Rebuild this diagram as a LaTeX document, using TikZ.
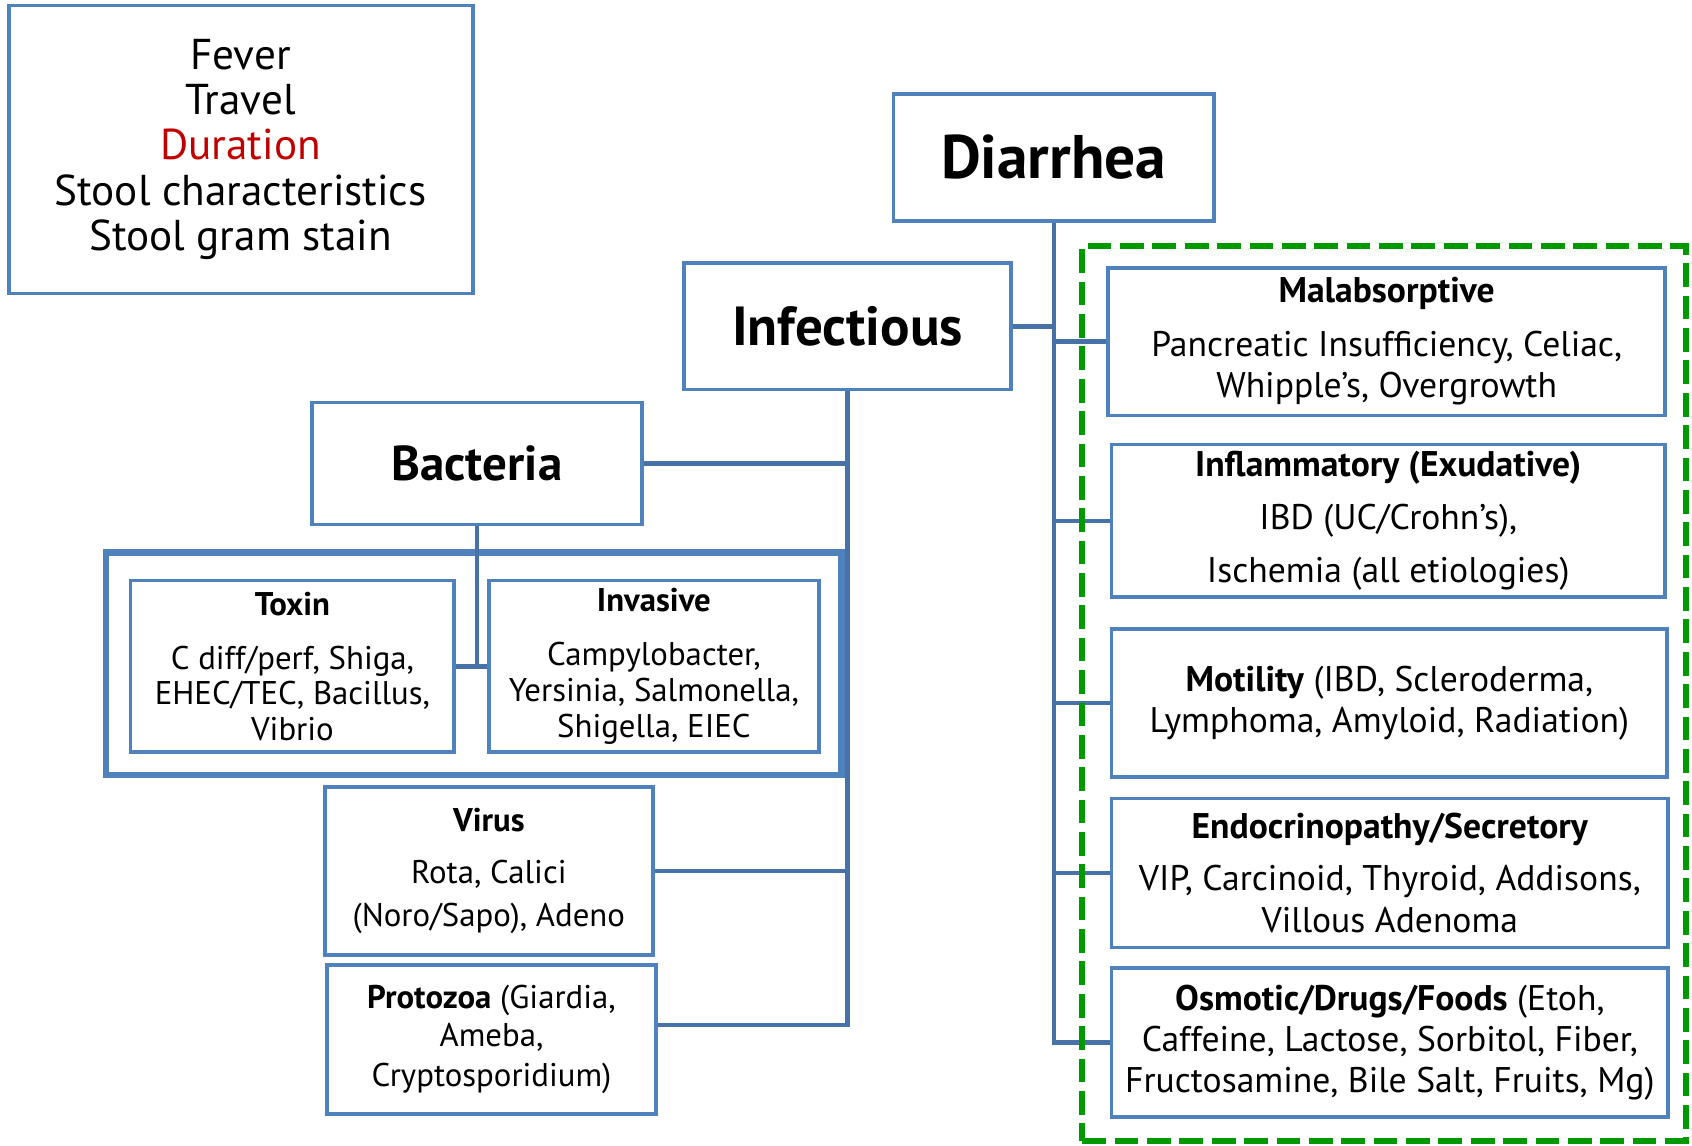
\documentclass[tikz,border=0pt]{standalone}
\usepackage{fontspec}
\setmainfont{PT Sans}
\usepackage{xcolor}
\usepackage{tikz}
\definecolor{cBox}{HTML}{4F81BD}
\definecolor{cLink}{HTML}{4672A8}
\definecolor{cZone}{HTML}{009900}
\definecolor{cAlert}{HTML}{C00000}
\newcommand\fsBody{\fontsize{15.2}{16.5}\selectfont}
\newcommand\fsWide{\fontsize{16.5}{19}\selectfont}
\newcommand\fsInfo{\fontsize{20}{21}\selectfont}
\newcommand\fsTop{\fontsize{28.5}{32}\selectfont\bfseries}
\newcommand\fsInf{\fontsize{25.5}{30}\selectfont\bfseries}
\newcommand\fsMid{\fontsize{22.7}{26}\selectfont\bfseries}
\tikzset{
  box/.style={draw=cBox, line width=1.75pt, fill=white, text=black, align=center,
              font=\fsBody, inner sep=2pt},
  wbox/.style={box, font=\fsWide},
  grp/.style={draw=cBox, line width=3pt, fill=white, inner sep=0pt},
  link/.style={draw=cLink, line width=2pt},
  zone/.style={draw=cZone, line width=2.8pt, dash pattern=on 11pt off 4pt, inner sep=0pt},
}
\begin{document}
\begin{tikzpicture}[x=0.5pt, y=-0.5pt]
  \useasboundingbox (0,0) rectangle (1568,1062);
  \node[box, font=\fsInfo, minimum width=215pt, minimum height=133.5pt] (keys) at (223,138.5)
    {Fever\\Travel\\\textcolor{cAlert}{Duration}\\Stool characteristics\\Stool gram stain};
  \node[box, font=\fsTop, minimum width=148.5pt, minimum height=59pt] (diar) at (976.5,146) {Diarrhea};
  \node[box, font=\fsInf, minimum width=151.5pt, minimum height=58.5pt] (infec) at (785.5,302.5) {Infectious};
  \node[box, font=\fsMid, minimum width=153pt, minimum height=56.5pt] (bact) at (442,429.5) {Bacteria};
  \node[grp, minimum width=341pt, minimum height=103pt] (bactgrp) at (439,615) {};
  \node[box, minimum width=150pt, minimum height=79.5pt] (toxin) at (271,617.5)
    {\textbf{Toxin}\\[8.5pt]C diff/perf, Shiga,\\EHEC/TEC, Bacillus,\\Vibrio};
  \node[box, minimum width=153pt, minimum height=79.5pt] (invas) at (606,617.5)
    {\textbf{Invasive}\\[8.5pt]Campylobacter,\\Yersinia, Salmonella,\\Shigella, EIEC};
  \node[box, minimum width=152pt, minimum height=78pt] (virus) at (453,807)
    {\textbf{Virus}\\[7.5pt]Rota, Calici\\[3.5pt](Noro/Sapo), Adeno};
  \node[box, minimum width=152.5pt, minimum height=69pt] (proto) at (455.5,963)
    {\textbf{Protozoa} (Giardia,\\[1pt]Ameba,\\[2pt]Cryptosporidium)};
  \node[wbox, minimum width=258pt, minimum height=68.5pt] (malab) at (1285,316.5)
    {\textbf{Malabsorptive}\\[6pt]Pancreatic Insufficiency, Celiac,\\Whipple's, Overgrowth};
  \node[wbox, minimum width=256.5pt, minimum height=70.5pt] (inflam) at (1286.5,482.5)
    {\textbf{Inflammatory (Exudative)}\\[6pt]IBD (UC/Crohn's),\\[5.5pt]Ischemia (all etiologies)};
  \node[wbox, minimum width=257.5pt, minimum height=68.5pt] (motil) at (1287.5,651.5)
    {\textbf{Motility} (IBD, Scleroderma,\\Lymphoma, Amyloid, Radiation)};
  \node[wbox, minimum width=258pt, minimum height=69pt] (endo) at (1288,809)
    {\textbf{Endocrinopathy/Secretory}\\[5pt]VIP, Carcinoid, Thyroid, Addisons,\\[0.5pt]Villous Adenoma};
  \node[wbox, minimum width=258pt, minimum height=69pt] (osmo) at (1288,966)
    {\textbf{Osmotic/Drugs/Foods} (Etoh,\\Caffeine, Lactose, Sorbitol, Fiber,\\Fructosamine, Bile Salt, Fruits, Mg)};
  \draw[link](diar.south) |- (osmo.west);\draw[link](infec.east) -- (infec.east -| diar.south);
  \draw[link](malab.west) -- (malab.west -| diar.south);\draw[link](inflam.west) -- (inflam.west -| diar.south);
  \draw[link](motil.west) -- (motil.west -| diar.south);\draw[link](endo.west) -- (endo.west -| diar.south);
  \draw[link](infec.south) |- ([yshift=6.5pt]proto.east);\draw[link](bact.east) -- (bact.east -| infec.south);
  \draw[link](virus.east) -- (virus.east -| infec.south);
  \draw[link](bact.south) -- (bact.south |- toxin.east);\draw[link](toxin.east) -- (invas.west);
  \node[zone, minimum width=279.5pt, minimum height=414.5pt] (noninf) at (1282.5,642.5) {};
\end{tikzpicture}
\end{document}
